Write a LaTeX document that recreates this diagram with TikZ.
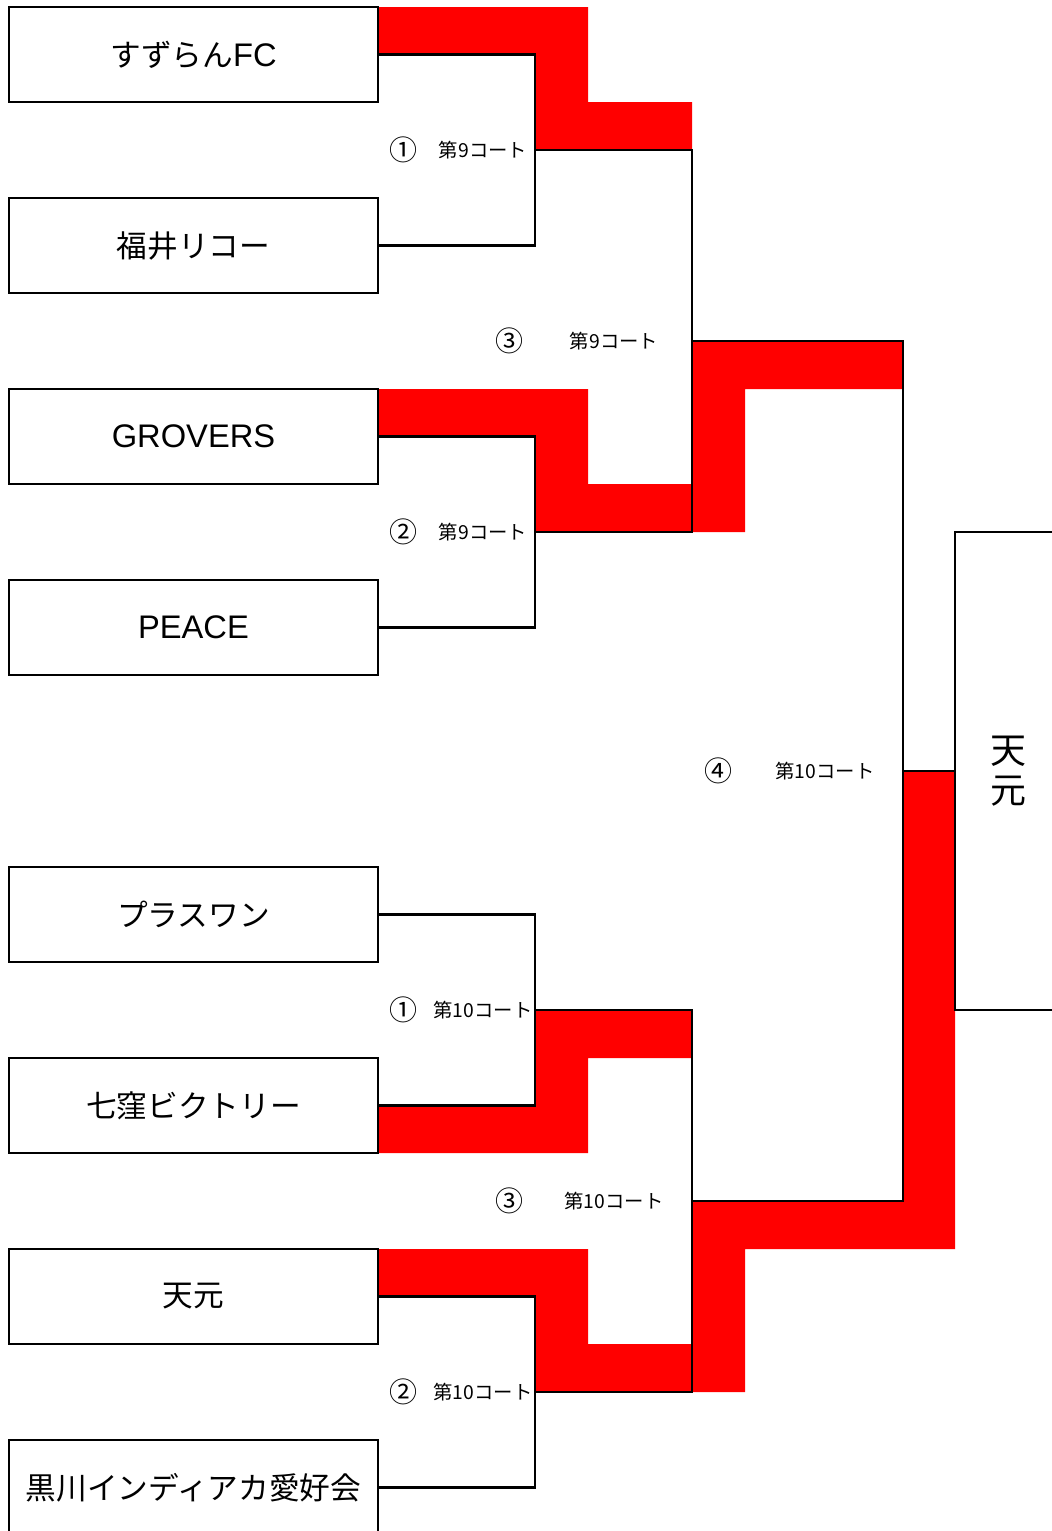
\documentclass[tikz,border=0pt]{standalone}
\usepackage{fontspec}
\setmainfont{Noto Sans CJK JP}
\newfontfamily\latinfont{Liberation Sans}
\newcommand{\lat}[1]{{\latinfont\fontsize{24.5}{28}\selectfont #1}}
\definecolor{winred}{RGB}{255,0,0}

\begin{document}
\begin{tikzpicture}[x=0.75pt,y=-0.75pt,
        team/.style={draw,line width=2.2pt,minimum width=276.75pt,minimum height=71.25pt,inner sep=0pt,font=\fontsize{23}{27}\selectfont},
        court/.style={inner sep=0pt,font=\fontsize{14.5}{17}\selectfont},
        round/.style={inner sep=0pt,font=\fontsize{21}{24}\selectfont},
        champ/.style={draw,line width=2.2pt,minimum width=79.5pt,minimum height=358.5pt,inner sep=0pt,align=center,font=\fontsize{27}{30}\selectfont},
        line/.style={line width=2.2pt}]
                \useasboundingbox (0,0) rectangle (1051,1531);
                % red bands
                \fill[winred] (378,7) -- (588,7) -- (588,102) -- (692,102) -- (692,150) -- (535,150) -- (535,54) -- (378,54) -- cycle;
                \fill[winred] (378,389) -- (588,389) -- (588,484) -- (692,484) -- (692,532) -- (535,532) -- (535,436) -- (378,436) -- cycle;
                \fill[winred] (692,341) -- (903,341) -- (903,389) -- (745,389) -- (745,532) -- (692,532) -- cycle;
                \fill[winred] (378,1105) -- (535,1105) -- (535,1010) -- (692,1010) -- (692,1058) -- (588,1058) -- (588,1153) -- (378,1153) -- cycle;
                \fill[winred] (378,1249) -- (588,1249) -- (588,1344) -- (692,1344) -- (692,1392) -- (535,1392) -- (535,1296) -- (378,1296) -- cycle;
                \fill[winred] (692,1201) -- (903,1201) -- (903,771) -- (955,771) -- (955,1249) -- (745,1249) -- (745,1392) -- (692,1392) -- cycle;
                % teams
                \node[team](t1) at (193.5,54.5){すずらん\lat{FC}};
                \node[team](t2) at (193.5,245.5){福井リコー};
                \node[team](t3) at (193.5,436.5){\lat{GROVERS}};
                \node[team](t4) at (193.5,627.5){\lat{PEACE}};
                \node[team](t5) at (193.5,914.5){プラスワン};
                \node[team](t6) at (193.5,1105.5){七窪ビクトリー};
                \node[team](t7) at (193.5,1296.5){天元};
                \node[team](t8) at (193.5,1487.5){黒川インディアカ愛好会};
                \node[champ](w) at (1008,771){天\\元};
                % junctions
                \coordinate (j1) at (535,150);
                \coordinate (r1) at (692,150);
                \coordinate (j2) at (535,532);
                \coordinate (r2) at (692,532);
                \coordinate (j3) at (692,341);
                \coordinate (r3) at (903,341);
                \coordinate (j5) at (535,1010);
                \coordinate (r5) at (692,1010);
                \coordinate (j6) at (535,1392);
                \coordinate (r6) at (692,1392);
                \coordinate (j7) at (692,1201);
                \coordinate (r7) at (903,1201);
                \coordinate (j8) at (903,771);
                % lines
                \draw[line](t1.east) -| (j1) |- (t2.east);
                \draw[line](t3.east) -| (j2) |- (t4.east);
                \draw[line](t5.east) -| (j5) |- (t6.east);
                \draw[line](t7.east) -| (j6) |- (t8.east);
                \draw[line](j1) -- (r1) -- (r2) -- (j2);
                \draw[line](j5) -- (r5) -- (r6) -- (j6);
                \draw[line](j3) -- (r3) -- (r7) -- (j7);
                \draw[line](j8) -- (w.west);
                % courts
                \node[round](c1) at (403,150){①};
                \node[court](n1) at (483,150){第9コート};
                \node[round](c2) at (403,532){②};
                \node[court](n2) at (483,532){第9コート};
                \node[round](c3) at (509,341){③};
                \node[court](n3) at (614,341){第9コート};
                \node[round](c4) at (718,771){④};
                \node[court](n4) at (825,771){第10コート};
                \node[round](c5) at (403,1010){①};
                \node[court](n5) at (483,1010){第10コート};
                \node[round](c6) at (403,1392){②};
                \node[court](n6) at (483,1392){第10コート};
                \node[round](c7) at (509,1201){③};
                \node[court](n7) at (614,1201){第10コート};
            \end{tikzpicture}
\end{document}
